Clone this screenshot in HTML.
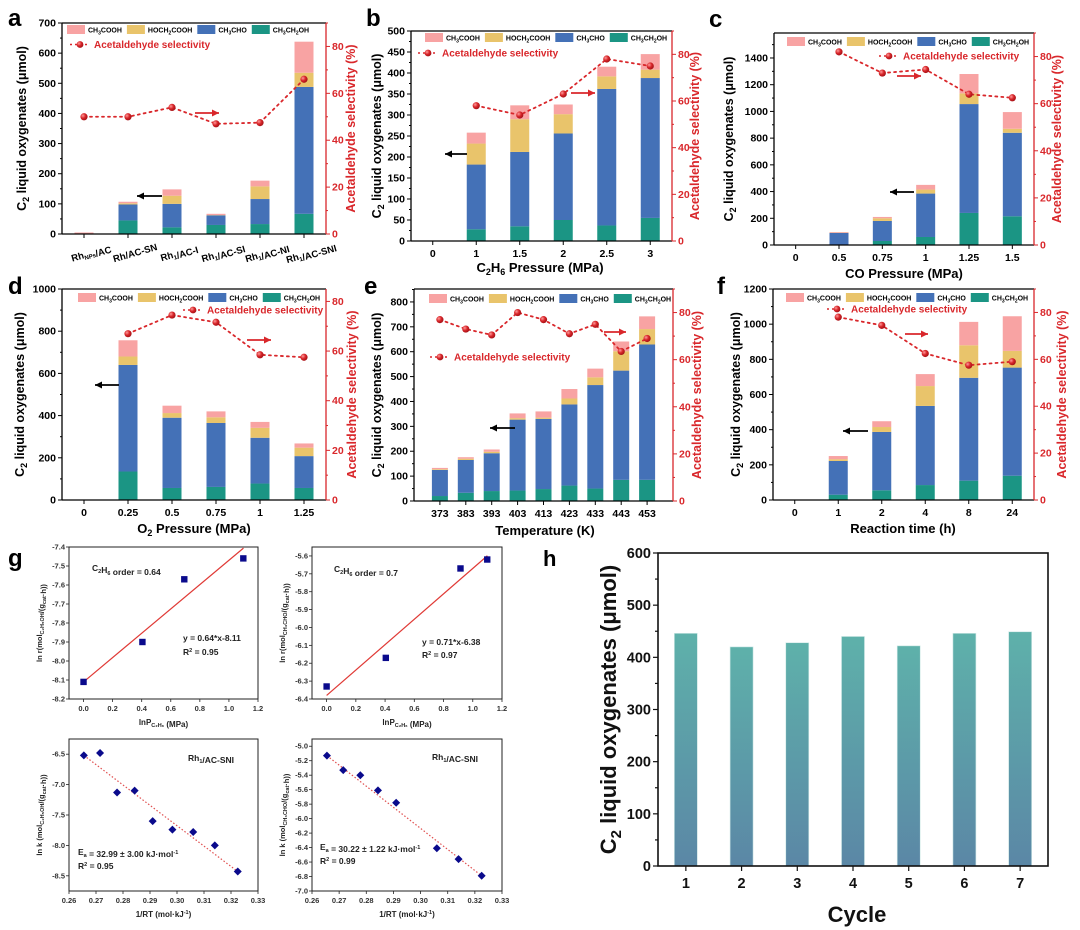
<!DOCTYPE html>
<html><head><meta charset="utf-8">
<style>
html,body{margin:0;padding:0;background:#fff;}
svg{display:block;font-family:"Liberation Sans",Arial,sans-serif;font-weight:bold;}
</style></head>
<body>
<svg id="fig" width="1080" height="930" viewBox="0 0 1080 930" xmlns="http://www.w3.org/2000/svg">
<defs>
<linearGradient id="hgrad" x1="0" y1="0" x2="0" y2="1"><stop offset="0" stop-color="#5eb1aa"/><stop offset="1" stop-color="#5b87a6"/></linearGradient>
<radialGradient id="dotg" cx="0.35" cy="0.35" r="0.7"><stop offset="0" stop-color="#ff9a9a"/><stop offset="0.5" stop-color="#d8262a"/><stop offset="1" stop-color="#a01015"/></radialGradient>
</defs>
</svg>
<script>
// ---------- data ----------
const aCats = ['Rh<sub>NPs</sub>/AC','Rh/AC-SN','Rh<sub>1</sub>/AC-I','Rh<sub>1</sub>/AC-SI','Rh<sub>1</sub>/AC-NI','Rh<sub>1</sub>/AC-SNI'];
const aEtOH = [0,45,22,30,33,67];
const aCHO = [0,53,78,32,83,421];
const aHO = [0,4,27,1,42,47];
const aAcid = [5,5,21,4,19,103];
const aSel = [50,50,54,47,47.5,66];

const bCats = ['0','1','1.5','2','2.5','3'];
const bEtOH = [0,28,35,50,37,55];
const bCHO = [0,154,177,206,325,333];
const bHO = [0,50,78,46,30,20];
const bAcid = [0,26,33,23,23,37];
const bSel = [null,58,54,63,78,75];

const cCats = ['0','0.5','0.75','1','1.25','1.5'];
const cEtOH = [0,0,30,60,240,215];
const cCHO = [0,90,150,325,815,625];
const cHO = [0,2,20,30,80,30];
const cAcid = [0,5,10,35,145,125];
const cSel = [null,82,73,74.5,64,62.5];

const dCats = ['0','0.25','0.5','0.75','1','1.25'];
const dEtOH = [0,135,57,62,78,57];
const dCHO = [0,505,333,303,217,151];
const dHO = [0,40,22,27,47,40];
const dAcid = [0,77,35,28,28,20];
const dSel = [null,67,74.5,71.6,58.5,57.5];

const eCats = ['373','383','393','403','413','423','433','443','453'];
const eEtOH = [20,33,40,42,48,62,50,85,85];
const eCHO = [105,132,152,285,282,326,416,439,544];
const eHO = [3,5,6,6,5,24,31,78,62];
const eAcid = [5,6,9,19,25,38,35,39,51];
const eSel = [77,73,70.5,80,77,71,75,63.5,69];

const fCats = ['0','1','2','4','8','24'];
const fEtOH = [0,30,55,85,110,138];
const fCHO = [0,192,332,450,585,615];
const fHO = [0,10,28,113,185,95];
const fAcid = [0,18,33,68,133,197];
const fSel = [null,78,74.5,62.5,57.5,59];

const g1X = [0,0.405,0.693,1.099];
const g1Y = [-8.11,-7.90,-7.57,-7.46];
const g1Fit = [0.64,-8.11];
const g2X = [0,0.405,0.916,1.099];
const g2Y = [-6.33,-6.17,-5.67,-5.62];
const g2Fit = [0.71,-6.38];
const g3X = [0.2655,0.2715,0.2778,0.2843,0.291,0.2983,0.306,0.314,0.3225];
const g3Y = [-6.52,-6.48,-7.13,-7.10,-7.60,-7.74,-7.78,-8.00,-8.43];
const g4X = [0.2655,0.2715,0.2778,0.2843,0.291,0.306,0.314,0.3225];
const g4Y = [-5.13,-5.33,-5.40,-5.61,-5.78,-6.41,-6.56,-6.79];

const hCats = ['1','2','3','4','5','6','7'];
const hVals = [446,420,428,440,422,446,449];

// ---------- helpers ----------
const NS='http://www.w3.org/2000/svg';
const svg=document.getElementById('fig');
function mk(tag,a,parent){const e=document.createElementNS(NS,tag);for(const k in a)e.setAttribute(k,a[k]);(parent||svg).appendChild(e);return e;}
function txt(x,y,s,a,parent){const e=mk('text',Object.assign({x:x,y:y},a||{}),parent);e.innerHTML=s;return e;}
const COLORS=['#1b9584','#4471b7','#e9c46b','#f8a3a3'];
const SERNAMES=['CH<tspan font-size="5" dy="2">3</tspan><tspan dy="-2">CH</tspan><tspan font-size="5" dy="2">2</tspan><tspan dy="-2">OH</tspan>',
 'CH<tspan font-size="5" dy="2">3</tspan><tspan dy="-2">CHO</tspan>',
 'HOCH<tspan font-size="5" dy="2">2</tspan><tspan dy="-2">COOH</tspan>',
 'CH<tspan font-size="5" dy="2">3</tspan><tspan dy="-2">COOH</tspan>'];
const RED='#d9272b';
const YLAB='C<tspan font-size="9" dy="3">2</tspan><tspan dy="-3"> liquid oxygenates (μmol)</tspan>';

function arrow(x1,x2,y,color,name){
  const g=mk('g',{});
  
  
  mk('line',{x1:x1,y1:y,x2:x2,y2:y,stroke:color,'stroke-width':1.8},g);
  const d=x2>x1?1:-1;
  mk('polygon',{points:`${x2},${y} ${x2-d*7},${y-3.5} ${x2-d*7},${y+3.5}`,fill:color},g);
}

function stackPanel(p,cats,series,sel){
  const g=mk('g',{});
  
  
  const w=(p.x1-p.x0)/p.nslots;
  const xs=i=>p.x0+(i+p.off+0.5)*w;
  const ys=v=>p.y1-v/p.ymax*(p.y1-p.y0);
  const yr=v=>p.y1-v/p.rmax*(p.y1-p.y0);
  for(let i=0;i<cats.length;i++){
    let acc=0;
    for(let s=0;s<4;s++){
      const v=series[s][i];
      if(v<=0)continue;
      const r=mk('rect',{x:xs(i)-p.bw/2,y:ys(acc+v),width:p.bw,height:ys(acc)-ys(acc+v),fill:COLORS[s]},g);
      
      
      acc+=v;
    }
  }
  mk('line',{x1:p.x0,y1:p.y0,x2:p.x0,y2:p.y1,stroke:'#000','stroke-width':1.3},g);
  mk('line',{x1:p.x0,y1:p.y1,x2:p.x1,y2:p.y1,stroke:'#000','stroke-width':1.3},g);
  mk('line',{x1:p.x0,y1:p.y0,x2:p.x1,y2:p.y0,stroke:'#000','stroke-width':1.3},g);
  mk('line',{x1:p.x1,y1:p.y0,x2:p.x1,y2:p.y1,stroke:RED,'stroke-width':1.3},g);
  for(let v=0;v<=p.ymax+0.001;v+=p.ystep/2){
    const y=ys(v);
    const major=Math.abs(v/p.ystep-Math.round(v/p.ystep))<1e-6;
    mk('line',{x1:p.x0-(major?4:2),y1:y,x2:p.x0,y2:y,stroke:'#000','stroke-width':1},g);
    if(major&&v<=p.ylabmax){const t=txt(p.x0-6,y+3.5,String(v),{'font-size':10.5,'text-anchor':'end'},g);
      }
  }
  for(let v=0;v<=p.rmax+0.001;v+=10){
    const y=yr(v);
    const major=(v%20===0);
    mk('line',{x1:p.x1,y1:y,x2:p.x1+(major?4:2),y2:y,stroke:RED,'stroke-width':1},g);
    if(major&&v<=80){const t=txt(p.x1+6,y+3.5,String(v),{'font-size':10.5,fill:RED},g);
      }
  }
  for(let i=0;i<cats.length;i++){
    mk('line',{x1:xs(i),y1:p.y1,x2:xs(i),y2:p.y1+4,stroke:'#000','stroke-width':1},g);
    if(p.rot){
      const t=txt(xs(i)+8,p.y1+22,cats[i].replace(/<sub>(.*?)<\/sub>/g,'<tspan font-size="6" dy="2">$1</tspan><tspan dy="-2">'+'</tspan>'),{'font-size':9.5,'text-anchor':'middle',transform:`rotate(-16 ${xs(i)+8} ${p.y1+22})`},g);
      
    } else {
      const t=txt(xs(i),p.y1+16,cats[i],{'font-size':10.5,'text-anchor':'middle'},g);
      
    }
  }
  const pts=[];
  for(let i=0;i<sel.length;i++) if(sel[i]!=null) pts.push([xs(i),yr(sel[i])]);
  const line=mk('polyline',{points:pts.map(q=>q.join(',')).join(' '),fill:'none',stroke:RED,'stroke-width':1.8,'stroke-dasharray':'2 4','stroke-linecap':'round'},g);
  
  
  for(const q of pts){
    const c=mk('circle',{cx:q[0],cy:q[1],r:3.6,fill:'url(#dotg)'},g);
    
    
  }
  const lg=mk('g',{},g);
  
  
  let lx=p.lx;
  const order=[3,2,1,0];
  for(const s of order){
    mk('rect',{x:lx,y:p.ly,width:18,height:9,fill:COLORS[s]},lg);
    const t=txt(lx+21,p.ly+7.5,SERNAMES[s],{'font-size':7},lg);
    
    
    lx+=21+t.getComputedTextLength()+5;
  }
  mk('line',{x1:p.sx-10,y1:p.sy,x2:p.sx+10,y2:p.sy,stroke:RED,'stroke-width':1.6,'stroke-dasharray':'2 3'},lg);
  mk('circle',{cx:p.sx,cy:p.sy,r:3.4,fill:'url(#dotg)'},lg);
  const st=txt(p.sx+14,p.sy+3.5,'Acetaldehyde selectivity',{'font-size':10,fill:RED},lg);
  
  
  const cy=(p.y0+p.y1)/2;
  const yl=txt(p.ylx,cy,YLAB,{'font-size':12.5,'text-anchor':'middle',transform:`rotate(-90 ${p.ylx} ${cy})`},g);
  
  
  const rl=txt(p.rlx,cy,'Acetaldehyde selectivity (%)',{'font-size':12.5,'text-anchor':'middle',fill:RED,transform:`rotate(-90 ${p.rlx} ${cy})`},g);
  
  
  if(p.xl){const xl=txt(p.xlx,p.xly,p.xl,{'font-size':13,'text-anchor':'middle'},g);
    }
  const L=txt(p.Lx,p.Ly,p.id,{'font-size':24},g);
  
  
  arrow(p.ba[1],p.ba[0],p.ba[2],'#000','arrow-left-axis');
  arrow(p.ra[0],p.ra[1],p.ra[2],RED,'arrow-right-axis');
}

stackPanel({id:'a',x0:62,x1:326,y0:23,y1:234,nslots:6,off:0,bw:19,ymax:700,ylabmax:700,ystep:100,rmax:90,rot:true,
  lx:67,ly:25,sx:80,sy:44.5,ylx:26,rlx:355,Lx:8,Ly:26,ba:[137,162,196],ra:[195,219,113]},aCats,[aEtOH,aCHO,aHO,aAcid],aSel);
stackPanel({id:'b',x0:411,x1:672,y0:31,y1:241,nslots:6,off:0,bw:19,ymax:500,ylabmax:500,ystep:50,rmax:90,
  lx:425,ly:33,sx:428,sy:53,ylx:381,rlx:699,Lx:366,Ly:26,xl:'C<tspan font-size="9" dy="3">2</tspan><tspan dy="-3">H</tspan><tspan font-size="9" dy="3">6</tspan><tspan dy="-3"> Pressure (MPa)</tspan>',xlx:540,xly:272,
  ba:[445,467,154],ra:[571,595,93]},bCats,[bEtOH,bCHO,bHO,bAcid],bSel);
stackPanel({id:'c',x0:774,x1:1034,y0:33,y1:245,nslots:6,off:0,bw:19,ymax:1587,ylabmax:1400,ystep:200,rmax:90,
  lx:787,ly:37,sx:889,sy:56,ylx:733,rlx:1061,Lx:709,Ly:27,xl:'CO Pressure (MPa)',xlx:904,xly:278,
  ba:[890,914,192],ra:[897,921,76]},cCats,[cEtOH,cCHO,cHO,cAcid],cSel);
stackPanel({id:'d',x0:62,x1:326,y0:289,y1:500,nslots:6,off:0,bw:19,ymax:1000,ylabmax:1000,ystep:200,rmax:85,
  lx:78,ly:293,sx:193,sy:310,ylx:24,rlx:356,Lx:8,Ly:294,xl:'O<tspan font-size="9" dy="3">2</tspan><tspan dy="-3"> Pressure (MPa)</tspan>',xlx:194,xly:533,
  ba:[95,119,385],ra:[247,271,340]},dCats,[dEtOH,dCHO,dHO,dAcid],dSel);
stackPanel({id:'e',x0:414,x1:673,y0:289,y1:501,nslots:10,off:0.5,bw:16,ymax:852,ylabmax:800,ystep:100,rmax:90,
  lx:429,ly:294,sx:440,sy:357,ylx:381,rlx:701,Lx:364,Ly:294,xl:'Temperature (K)',xlx:545,xly:535,
  ba:[490,515,428],ra:[604,626,332]},eCats,[eEtOH,eCHO,eHO,eAcid],eSel);
stackPanel({id:'f',x0:773,x1:1034,y0:289,y1:500,nslots:6,off:0,bw:19,ymax:1200,ylabmax:1200,ystep:200,rmax:90,
  lx:786,ly:293,sx:837,sy:309,ylx:740,rlx:1066,Lx:717,Ly:294,xl:'Reaction time (h)',xlx:903,xly:533,
  ba:[843,868,431],ra:[905,928,334]},fCats,[fEtOH,fCHO,fHO,fAcid],fSel);

// ---------- panel g ----------
function scatterPanel(p,X,Y,fit){
  const g=mk('g',{});
  
  
  const xs=v=>p.x0+(v-p.xmin)/(p.xmax-p.xmin)*(p.x1-p.x0);
  const ys=v=>p.y1-(v-p.ymin)/(p.ymax-p.ymin)*(p.y1-p.y0);
  mk('rect',{x:p.x0,y:p.y0,width:p.x1-p.x0,height:p.y1-p.y0,fill:'none',stroke:'#222','stroke-width':1},g);
  for(const v of p.xt){const x=xs(v);
    mk('line',{x1:x,y1:p.y1,x2:x,y2:p.y1+3,stroke:'#222','stroke-width':0.8},g);
    const t=txt(x,p.y1+12,v.toFixed(p.xd),{'font-size':7.5,'text-anchor':'middle',fill:'#333'},g);
    }
  for(const v of p.yt){const y=ys(v);
    mk('line',{x1:p.x0-3,y1:y,x2:p.x0,y2:y,stroke:'#222','stroke-width':0.8},g);
    const t=txt(p.x0-4,y+2.5,v.toFixed(1),{'font-size':7.5,'text-anchor':'end',fill:'#333'},g);
    }
  if(fit){
    const l=mk('line',{x1:xs(0),y1:ys(fit[1]),x2:xs(1.1),y2:ys(fit[0]*1.1+fit[1]),stroke:'#e03a36','stroke-width':1.2},g);
    
  } else {
    const n=X.length-1;
    const l=mk('line',{x1:xs(X[0]),y1:ys(Y[0]),x2:xs(X[n]),y2:ys(Y[n]),stroke:'#e05050','stroke-width':1.2,'stroke-dasharray':'1.5 2'},g);
    
  }
  for(let i=0;i<X.length;i++){
    const x=xs(X[i]),y=ys(Y[i]);
    let m;
    if(p.diamond) m=mk('polygon',{points:`${x},${y-4} ${x+4},${y} ${x},${y+4} ${x-4},${y}`,fill:'#0a0a8c'},g);
    else m=mk('rect',{x:x-3.2,y:y-3.2,width:6.4,height:6.4,fill:'#0a0a8c'},g);
    
    
  }
  for(const a of p.ann){const t=txt(a[0],a[1],a[2],{'font-size':8.5,fill:'#222'},g);
    }
  const cy=(p.y0+p.y1)/2;
  const yl=txt(p.ylx,cy,p.yl,{'font-size':7.5,'text-anchor':'middle',fill:'#222',transform:`rotate(-90 ${p.ylx} ${cy})`},g);
  
  const xl=txt((p.x0+p.x1)/2,p.y1+26,p.xl,{'font-size':8,'text-anchor':'middle',fill:'#222'},g);
  
}
const sub=s=>`<tspan font-size="5.5" dy="2">${s}</tspan><tspan dy="-2"></tspan>`;
const lnP='lnP'+sub('C₂H₆')+' (MPa)';
scatterPanel({id:'1',x0:69,x1:258,y0:547,y1:699,xmin:-0.1,xmax:1.2,ymin:-8.2,ymax:-7.4,xd:1,
  xt:[0,0.2,0.4,0.6,0.8,1.0,1.2],yt:[-8.2,-8.1,-8.0,-7.9,-7.8,-7.7,-7.6,-7.5,-7.4],
  ann:[[92,571,'C'+sub('2')+'H'+sub('6')+' order = 0.64'],[183,641,'y = 0.64*x-8.11'],[183,655,'R'+'<tspan font-size="5.5" dy="-3">2</tspan><tspan dy="3"> = 0.95</tspan>']],
  ylx:42,yl:'ln r(mol'+sub('C₂H₅OH')+'/(g'+sub('cat')+'·h))',xl:lnP},g1X,g1Y,g1Fit);
scatterPanel({id:'2',x0:312,x1:502,y0:547,y1:699,xmin:-0.1,xmax:1.2,ymin:-6.4,ymax:-5.55,xd:1,
  xt:[0,0.2,0.4,0.6,0.8,1.0,1.2],yt:[-6.4,-6.3,-6.2,-6.1,-6.0,-5.9,-5.8,-5.7,-5.6],
  ann:[[334,572,'C'+sub('2')+'H'+sub('6')+' order = 0.7'],[422,645,'y = 0.71*x-6.38'],[422,658,'R'+'<tspan font-size="5.5" dy="-3">2</tspan><tspan dy="3"> = 0.97</tspan>']],
  ylx:285,yl:'ln r(mol'+sub('CH₃CHO')+'/(g'+sub('cat')+'·h))',xl:lnP},g2X,g2Y,g2Fit);
scatterPanel({id:'3',x0:69,x1:258,y0:739,y1:891,xmin:0.26,xmax:0.33,ymin:-8.75,ymax:-6.25,xd:2,diamond:true,
  xt:[0.26,0.27,0.28,0.29,0.30,0.31,0.32,0.33],yt:[-8.5,-8.0,-7.5,-7.0,-6.5],
  ann:[[188,761,'Rh'+sub('1')+'/AC-SNI'],[78,855,'E'+sub('a')+' = 32.99 ± 3.00 kJ·mol<tspan font-size="5.5" dy="-3">-1</tspan><tspan dy="3"></tspan>'],[78,869,'R<tspan font-size="5.5" dy="-3">2</tspan><tspan dy="3"> = 0.95</tspan>']],
  ylx:42,yl:'ln k (mol'+sub('C₂H₅OH')+'/(g'+sub('cat')+'·h))',xl:'1/RT (mol·kJ<tspan font-size="5.5" dy="-3">-1</tspan><tspan dy="3">)</tspan>'},g3X,g3Y,null);
scatterPanel({id:'4',x0:312,x1:502,y0:739,y1:891,xmin:0.26,xmax:0.33,ymin:-7.0,ymax:-4.9,xd:2,diamond:true,
  xt:[0.26,0.27,0.28,0.29,0.30,0.31,0.32,0.33],yt:[-7.0,-6.8,-6.6,-6.4,-6.2,-6.0,-5.8,-5.6,-5.4,-5.2,-5.0],
  ann:[[432,760,'Rh'+sub('1')+'/AC-SNI'],[320,850,'E'+sub('a')+' = 30.22 ± 1.22 kJ·mol<tspan font-size="5.5" dy="-3">-1</tspan><tspan dy="3"></tspan>'],[320,864,'R<tspan font-size="5.5" dy="-3">2</tspan><tspan dy="3"> = 0.99</tspan>']],
  ylx:285,yl:'ln k (mol'+sub('CH₃CHO')+'/(g'+sub('cat')+'·h))',xl:'1/RT (mol·kJ<tspan font-size="5.5" dy="-3">-1</tspan><tspan dy="3">)</tspan>'},g4X,g4Y,null);
{const t=txt(8,566,'g',{'font-size':24});}

// ---------- panel h ----------
(function(){
  const x0=658,x1=1048,y0=553,y1=866,ymax=600;
  const g=mk('g',{});
  
  
  const w=(x1-x0)/hCats.length;
  const xs=i=>x0+(i+0.5)*w;
  const ys=v=>y1-v/ymax*(y1-y0);
  for(let i=0;i<hVals.length;i++){
    const r=mk('rect',{x:xs(i)-11.5,y:ys(hVals[i]),width:23,height:y1-ys(hVals[i]),fill:'url(#hgrad)',stroke:'#cfe8e6','stroke-width':0.6},g);
    
    
  }
  mk('rect',{x:x0,y:y0,width:x1-x0,height:y1-y0,fill:'none',stroke:'#111','stroke-width':1.6},g);
  for(let v=0;v<=ymax;v+=50){
    const y=ys(v),maj=v%100===0;
    mk('line',{x1:x0-(maj?5:3),y1:y,x2:x0,y2:y,stroke:'#111','stroke-width':1.2},g);
    if(maj){const t=txt(x0-7,y+5,String(v),{'font-size':14.5,'text-anchor':'end',fill:'#111'},g);
      }
  }
  for(let i=0;i<hCats.length;i++){
    mk('line',{x1:xs(i),y1:y1,x2:xs(i),y2:y1+5,stroke:'#111','stroke-width':1.2},g);
    const t=txt(xs(i),y1+22,hCats[i],{'font-size':14.5,'text-anchor':'middle',fill:'#111'},g);
    
  }
  const cy=(y0+y1)/2;
  const yl=txt(616,cy,'C<tspan font-size="15" dy="5">2</tspan><tspan dy="-5"> liquid oxygenates (μmol)</tspan>',{'font-size':22,'text-anchor':'middle',fill:'#111',transform:`rotate(-90 616 ${cy})`},g);
  
  const xl=txt(857,922,'Cycle',{'font-size':22,'text-anchor':'middle',fill:'#111'},g);
  
  const L=txt(543,566,'h',{'font-size':22},g);
  
})();
</script>
</body></html>
